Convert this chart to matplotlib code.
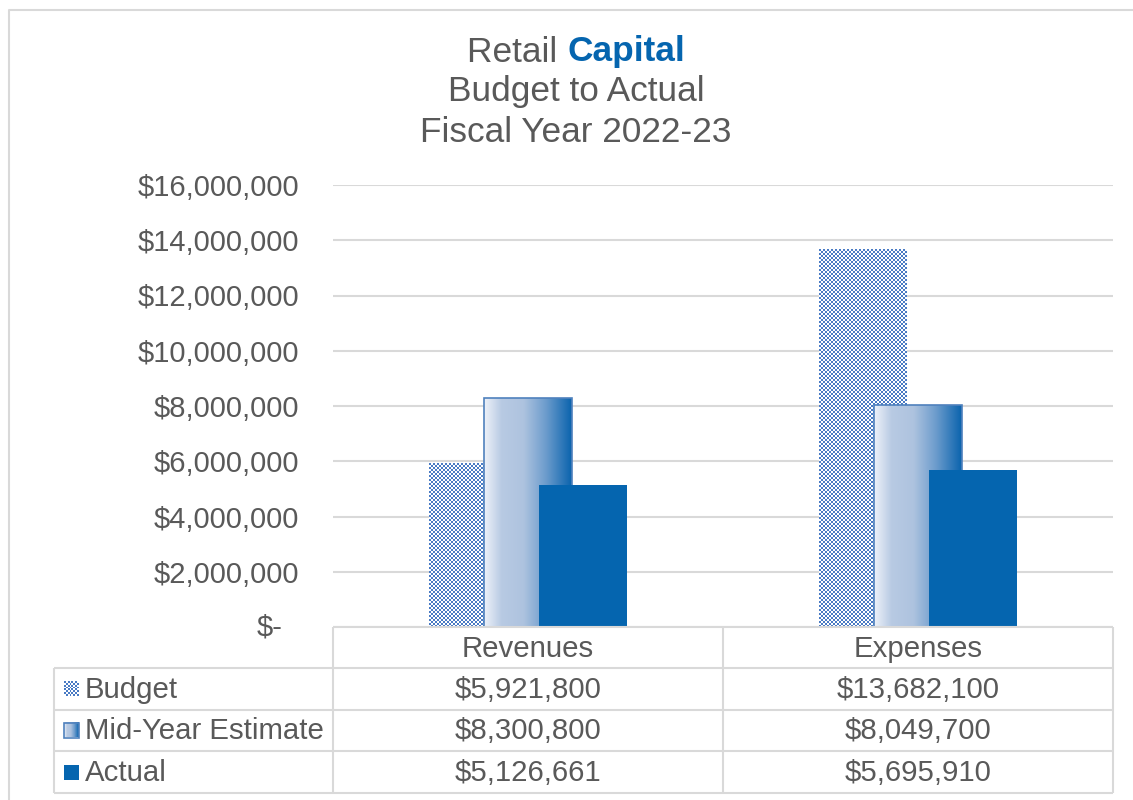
import numpy as np
import matplotlib
matplotlib.use("Agg")
import matplotlib.pyplot as plt
from matplotlib.colors import LinearSegmentedColormap, to_rgb
from matplotlib.patches import Rectangle

plt.rcParams['font.family'] = ['Liberation Sans', 'DejaVu Sans']

# ---- data ----
categories = ["Revenues", "Expenses"]
series_names = ["Budget", "Mid-Year Estimate", "Actual"]
budget = [5921800, 13682100]
mid_year = [8300800, 8049700]
actual = [5126661, 5695910]
y_ticks = [0, 2000000, 4000000, 6000000, 8000000, 10000000, 12000000, 14000000, 16000000]

# ---- style ----
W, H = 1133, 800
TEXT = '#595959'
GRID = '#d9d9d9'
CHECK_BLUE = '#4a7bc4'
ACTUAL_BLUE = '#0565af'
EDGE_BLUE = '#4f81bd'
FS_TICK = 21
FS_TABLE = 21.2
FS_TITLE = 25.4
grad_cmap = LinearSegmentedColormap.from_list(
    'midyear', [(0.0, '#eef2f9'), (0.2, '#b8cae3'), (0.45, '#aec3df'),
                (0.7, '#6e9dcd'), (1.0, '#0a63ad')])

fig = plt.figure(figsize=(W / 100, H / 100), dpi=100)
fig.patch.set_facecolor('white')


def checker(nr, nc, color, cell=1):
    rgb = np.array(to_rgb(color))
    yy, xx = np.mgrid[0:nr, 0:nc]
    mask = ((yy // cell + xx // cell) % 2) == 0
    img = np.ones((nr, nc, 3))
    img[mask] = rgb
    return img


# ---- main plot area ----
ax = fig.add_axes([333 / W, 1 - 627 / H, 780 / W, 442 / H])
xlim = (-0.5, 1.5)
ylim = (0, 16000000)
ax.set_xlim(*xlim)
ax.set_ylim(*ylim)
for s in ax.spines.values():
    s.set_visible(False)
ax.set_yticks(y_ticks)
ax.set_yticklabels(['' if v == 0 else f"${v:,.0f}" for v in y_ticks])
ax.tick_params(axis='y', length=0, pad=24.5, labelsize=FS_TICK, labelcolor=TEXT)
ax.set_xticks([])
ax.yaxis.grid(True, color=GRID, linewidth=1.5)
ax.set_axisbelow(True)
ax.annotate("$-", xy=(0, 0), xycoords=('axes fraction', 'data'),
            xytext=(-50, 0), textcoords='offset pixels',
            ha='right', va='center', fontsize=FS_TICK, color=TEXT)

x = np.arange(len(categories))
bw = 0.2256
off = 0.142

b_bars = ax.bar(x - off, budget, bw, color='none', linewidth=0, zorder=2)
m_bars = ax.bar(x, mid_year, bw, color='none', edgecolor=EDGE_BLUE,
                linewidth=1.2, zorder=3.5)
a_bars = ax.bar(x + off, actual, bw, color=ACTUAL_BLUE, linewidth=0, zorder=4)

fig.canvas.draw()
for r in b_bars:
    x0, y0 = r.get_x(), r.get_y()
    x1, y1 = x0 + r.get_width(), y0 + r.get_height()
    p0 = ax.transData.transform((x0, y0))
    p1 = ax.transData.transform((x1, y1))
    nc = max(1, int(round((p1[0] - p0[0]) / 2)))
    nr = max(1, int(round((p1[1] - p0[1]) / 2)))
    im = ax.imshow(checker(nr, nc, CHECK_BLUE), extent=(x0, x1, y0, y1),
                   aspect='auto', interpolation='nearest', zorder=2)
    im.set_clip_path(r)

for r in m_bars:
    x0, y0 = r.get_x(), r.get_y()
    x1, y1 = x0 + r.get_width(), y0 + r.get_height()
    im = ax.imshow(np.linspace(0, 1, 256)[None, :], cmap=grad_cmap,
                   extent=(x0, x1, y0, y1), aspect='auto',
                   interpolation='bilinear', zorder=3)
    im.set_clip_path(r)

ax.set_xlim(*xlim)
ax.set_ylim(*ylim)

# ---- overlay in pixel coordinates: frame, title, data table ----
ov = fig.add_axes([0, 0, 1, 1], zorder=5)
ov.set_xlim(0, W)
ov.set_ylim(H, 0)
ov.axis('off')
ov.patch.set_alpha(0)

# outer frame (left and top edges)
ov.plot([9, 9, W + 5], [H + 5, 10, 10], color=GRID, lw=1.5, solid_capstyle='butt')

# title
renderer = fig.canvas.get_renderer()
t1 = ov.text(0, 52, "Retail ", fontsize=FS_TITLE, color=TEXT, ha='left', va='center')
t2 = ov.text(0, 52, "Capital", fontsize=FS_TITLE, color=ACTUAL_BLUE, fontweight='bold',
             ha='left', va='center')
w1 = t1.get_window_extent(renderer).width
w2 = t2.get_window_extent(renderer).width
cx = 576
t1.set_x(cx - (w1 + w2) / 2)
t2.set_x(cx - (w1 + w2) / 2 + w1)
ov.text(cx, 92, "Budget to Actual", fontsize=FS_TITLE, color=TEXT, ha='center', va='center')
ov.text(cx, 132, "Fiscal Year 2022-23", fontsize=FS_TITLE, color=TEXT, ha='center', va='center')

# table grid
tl = dict(color=GRID, lw=1.5, solid_capstyle='butt')
ov.plot([333, 1113], [627, 627], **tl)
for yy in [668, 710, 751, 793]:
    ov.plot([54, 1113], [yy, yy], **tl)
ov.plot([54, 54], [668, 793], **tl)
for xx in [333, 723, 1113]:
    ov.plot([xx, xx], [627, 793], **tl)

col_centers = [528, 918]
row_centers = [690, 731, 773]
for c, name in zip(col_centers, categories):
    ov.text(c, 649, name, fontsize=FS_TABLE, color=TEXT, ha='center', va='center')

for rc, name, vals in zip(row_centers, series_names, [budget, mid_year, actual]):
    ov.text(85, rc, name, fontsize=FS_TABLE, color=TEXT, ha='left', va='center')
    for c, v in zip(col_centers, vals):
        ov.text(c, rc, f"${v:,.0f}", fontsize=FS_TABLE, color=TEXT, ha='center', va='center')

# legend keys
k = 15
kx = 64
ov.imshow(checker(8, 8, CHECK_BLUE), extent=(kx, kx + k, 689 + k / 2, 689 - k / 2),
          interpolation='nearest', aspect='auto')
ov.imshow(np.linspace(0, 1, 64)[None, :], cmap=grad_cmap,
          extent=(kx, kx + k, 730 + k / 2, 730 - k / 2), interpolation='bilinear', aspect='auto')
ov.add_patch(Rectangle((kx, 730 - k / 2), k, k, fill=False, edgecolor=EDGE_BLUE, lw=1.2))
ov.add_patch(Rectangle((kx, 772 - k / 2), k, k, facecolor=ACTUAL_BLUE, lw=0))
ov.set_xlim(0, W)
ov.set_ylim(H, 0)

fig.savefig("out.png", dpi=100, facecolor='white')
